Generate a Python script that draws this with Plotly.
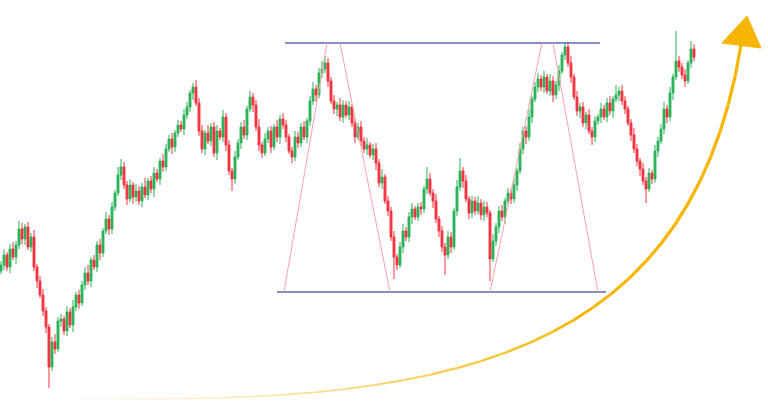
import numpy as np
import plotly.graph_objects as go

# ---- candle data (price units; one candle per period) ----
close = [142,152,140,158,150,162,178,168,180,160,170,140,126,112,96,80,40,65,58,86,
         88,76,95,82,100,112,104,122,134,126,147,140,162,154,176,188,178,200,214,232,
         240,222,208,222,210,216,206,220,212,226,218,234,228,246,240,258,268,260,274,282,
         278,292,300,314,320,304,276,258,274,266,280,254,276,270,290,262,236,228,250,264,
         280,272,298,310,302,280,262,254,268,276,260,280,270,288,282,270,256,250,270,264,
         280,270,286,306,318,312,334,338,344,326,306,298,302,290,302,292,300,284,270,280,
         266,258,262,252,258,244,224,230,206,196,170,150,142,160,176,170,190,198,190,200,
         198,218,228,214,206,188,176,160,152,170,160,196,220,236,226,208,194,206,196,204,
         192,200,194,148,166,180,196,190,206,214,208,222,236,258,276,270,290,308,320,328,
         320,330,316,326,312,322,336,352,360,344,330,310,296,300,284,292,276,270,286,290,
         298,290,304,296,308,312,316,306,298,284,272,258,246,238,226,218,234,228,256,266,
         278,298,290,314,330,346,340,332,326,344,358,350]
first_open = 136
upper_wick = [4,6,3,5,7,4,8,6,3,5,4,7,3,5,6,4,3,5,8,4,
              5,3,6,4,7,3,5,4,6,8,3,5,4,6,3,7,4,5,3,8,
              8,5,4,6,3,7,5,4,9,3,5,6,4,3,7,5,4,6,3,5,
              4,6,5,3,4,7,5,6,3,8,4,5,6,3,7,4,5,3,6,4,
              5,7,3,6,4,5,8,3,6,4,5,3,7,4,6,5,3,4,6,5,
              4,6,3,5,7,4,5,8,7,5,4,6,3,7,5,4,6,3,5,4,
              6,4,7,3,5,6,4,8,3,5,4,6,3,5,7,4,5,6,3,4,
              5,3,12,6,4,7,3,5,4,6,5,3,7,13,4,6,3,5,4,7,
              4,6,5,3,7,4,5,6,3,5,4,7,3,6,4,5,8,3,5,6,
              4,6,3,7,5,4,6,3,4,5,7,3,6,4,5,3,6,4,5,3,
              6,4,5,7,3,10,4,6,5,3,4,7,5,3,6,4,5,3,6,4,
              5,7,4,6,3,30,5,4,6,3,8,5]
lower_wick = [3,5,4,6,3,7,4,5,6,3,5,4,7,3,5,6,21,4,5,3,
              6,4,5,3,7,4,6,3,5,4,6,3,5,7,4,3,6,5,4,3,
              5,4,6,3,7,5,4,6,3,5,4,8,3,6,5,4,3,7,5,4,
              3,6,4,5,7,3,5,4,6,3,5,4,7,3,5,6,4,12,5,3,
              6,4,5,3,7,4,6,5,3,4,6,3,5,7,4,5,3,6,4,5,
              4,3,6,5,4,7,3,5,4,6,3,5,7,4,6,3,5,4,6,3,
              5,4,6,3,5,7,4,6,3,5,4,22,5,3,6,4,5,7,3,4,
              6,4,5,3,7,4,6,5,20,4,6,3,5,4,7,3,6,5,4,3,
              5,6,4,22,3,5,6,4,7,3,5,4,6,3,5,7,4,6,3,5,
              4,6,3,5,7,4,6,3,5,4,6,3,5,7,4,6,3,8,5,4,
              6,3,5,4,7,3,6,4,5,3,6,4,5,7,4,14,3,5,4,6,
              3,5,6,4,7,3,5,4,6,3,5,4]

opens = [first_open] + close[:-1]
highs = [max(o, c) + u for o, c, u in zip(opens, close, upper_wick)]
lows = [min(o, c) - l for o, c, l in zip(opens, close, lower_wick)]
periods = list(range(len(close)))

# ---- annotation geometry (pixel-like overlay coordinates) ----
resist_line = dict(x0=285, x1=600, y=43)
support_line = dict(x0=277, x1=606, y=292)
pink_legs = [((284, 292), (327, 43)), ((340, 43), (390, 292)),
             ((490, 292), (542, 43)), ((553, 43), (598, 292))]
arrow_ctrl = [(80, 398), (450, 406), (690, 360), (741, 45)]
arrow_head = [(722, 43), (761, 48), (747, 16)]

RED = "#f2202f"
GREEN = "#18ac4a"
ORANGE = "#f7b500"
BLUE = "#5b68b0"
PINK = "#f6a3aa"

fig = go.Figure()
fig.add_trace(go.Candlestick(
    x=periods, open=opens, high=highs, low=lows, close=close,
    increasing=dict(line=dict(color=GREEN, width=1), fillcolor=GREEN),
    decreasing=dict(line=dict(color=RED, width=1), fillcolor=RED),
    whiskerwidth=0, opacity=0.92, hoverinfo="skip", showlegend=False,
))

# overlay lines
fig.add_trace(go.Scatter(x=[resist_line["x0"], resist_line["x1"]], y=[resist_line["y"]] * 2,
                         mode="lines", line=dict(color=BLUE, width=1.6),
                         xaxis="x2", yaxis="y2", hoverinfo="skip", showlegend=False))
fig.add_trace(go.Scatter(x=[support_line["x0"], support_line["x1"]], y=[support_line["y"]] * 2,
                         mode="lines", line=dict(color=BLUE, width=1.6),
                         xaxis="x2", yaxis="y2", hoverinfo="skip", showlegend=False))
for (a, b) in pink_legs:
    fig.add_trace(go.Scatter(x=[a[0], b[0]], y=[a[1], b[1]], mode="lines",
                             line=dict(color=PINK, width=1),
                             xaxis="x2", yaxis="y2", hoverinfo="skip", showlegend=False))

# curved arrow (cubic bezier) with fading tail
P = np.array(arrow_ctrl, dtype=float)
t = np.linspace(0, 1, 121)
B = ((1 - t) ** 3)[:, None] * P[0] + (3 * (1 - t) ** 2 * t)[:, None] * P[1] \
    + (3 * (1 - t) * t ** 2)[:, None] * P[2] + (t ** 3)[:, None] * P[3]
nseg = 30
idx = np.linspace(0, len(t) - 1, nseg + 1).astype(int)
for k in range(nseg):
    s = slice(idx[k], idx[k + 1] + 1)
    f = (k + 0.5) / nseg
    op = min(1.0, 0.06 + f * 1.6)
    w = 1.0 + 2.2 * min(1.0, f * 1.4)
    fig.add_trace(go.Scatter(x=B[s, 0], y=B[s, 1], mode="lines",
                             line=dict(color=ORANGE, width=w), opacity=op,
                             xaxis="x2", yaxis="y2", hoverinfo="skip", showlegend=False))
hx = [p[0] for p in arrow_head] + [arrow_head[0][0]]
hy = [p[1] for p in arrow_head] + [arrow_head[0][1]]
fig.add_trace(go.Scatter(x=hx, y=hy, mode="lines", fill="toself", fillcolor=ORANGE,
                         line=dict(color=ORANGE, width=1),
                         xaxis="x2", yaxis="y2", hoverinfo="skip", showlegend=False))

fig.update_layout(
    width=768, height=407,
    margin=dict(l=0, r=0, t=0, b=0),
    paper_bgcolor="white", plot_bgcolor="white",
    showlegend=False,
    boxgap=0.1,
    xaxis=dict(range=[-1 / 3, 767 / 3], visible=False, rangeslider=dict(visible=False),
               fixedrange=True),
    yaxis=dict(range=[0, 407], visible=False, fixedrange=True),
    xaxis2=dict(range=[0, 768], overlaying="x", visible=False, fixedrange=True),
    yaxis2=dict(range=[407, 0], overlaying="y", visible=False, fixedrange=True),
)
fig.write_html("out.html", config={"displayModeBar": False},
               post_script="document.body.style.margin='0';document.body.style.overflow='hidden';")
